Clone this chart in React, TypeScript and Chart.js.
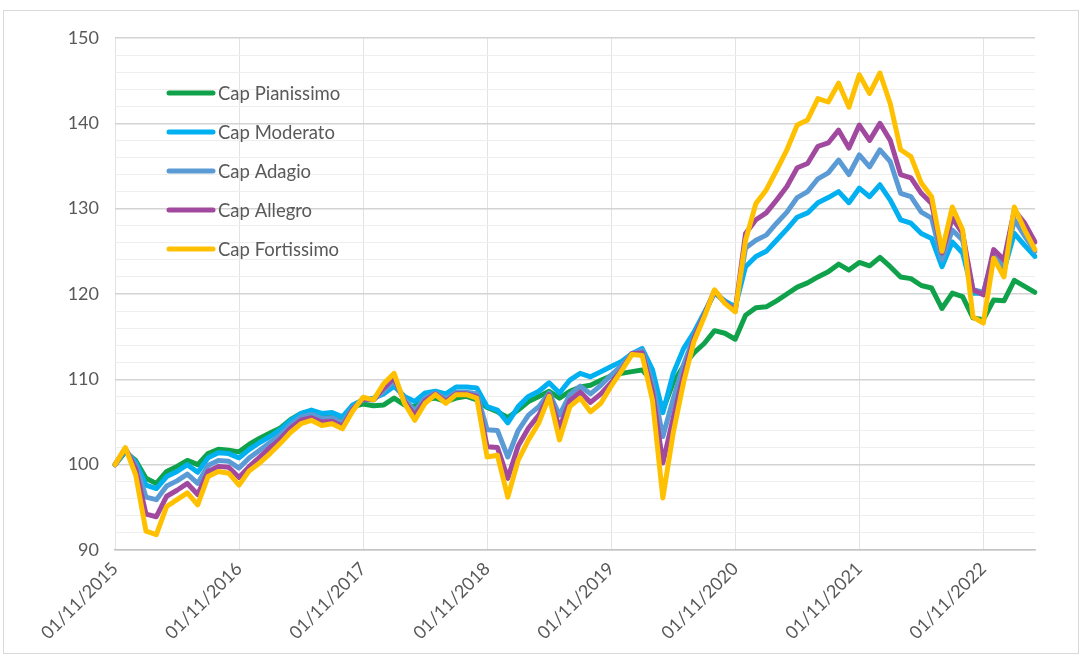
import React, { useEffect, useRef } from "react";
import { Chart, registerables } from "chart.js";

Chart.register(...registerables);

// Monthly categories (01/11/2015 ... 01/04/2023)
const dates: string[] = [
  "01/11/2015", "01/12/2015",
  "01/01/2016", "01/02/2016", "01/03/2016", "01/04/2016", "01/05/2016", "01/06/2016", "01/07/2016", "01/08/2016", "01/09/2016", "01/10/2016", "01/11/2016", "01/12/2016",
  "01/01/2017", "01/02/2017", "01/03/2017", "01/04/2017", "01/05/2017", "01/06/2017", "01/07/2017", "01/08/2017", "01/09/2017", "01/10/2017", "01/11/2017", "01/12/2017",
  "01/01/2018", "01/02/2018", "01/03/2018", "01/04/2018", "01/05/2018", "01/06/2018", "01/07/2018", "01/08/2018", "01/09/2018", "01/10/2018", "01/11/2018", "01/12/2018",
  "01/01/2019", "01/02/2019", "01/03/2019", "01/04/2019", "01/05/2019", "01/06/2019", "01/07/2019", "01/08/2019", "01/09/2019", "01/10/2019", "01/11/2019", "01/12/2019",
  "01/01/2020", "01/02/2020", "01/03/2020", "01/04/2020", "01/05/2020", "01/06/2020", "01/07/2020", "01/08/2020", "01/09/2020", "01/10/2020", "01/11/2020", "01/12/2020",
  "01/01/2021", "01/02/2021", "01/03/2021", "01/04/2021", "01/05/2021", "01/06/2021", "01/07/2021", "01/08/2021", "01/09/2021", "01/10/2021", "01/11/2021", "01/12/2021",
  "01/01/2022", "01/02/2022", "01/03/2022", "01/04/2022", "01/05/2022", "01/06/2022", "01/07/2022", "01/08/2022", "01/09/2022", "01/10/2022", "01/11/2022", "01/12/2022",
  "01/01/2023", "01/02/2023", "01/03/2023", "01/04/2023",
];

// x-axis tick labels shown (one per year)
const xTickLabels: string[] = [
  "01/11/2015", "01/11/2016", "01/11/2017", "01/11/2018",
  "01/11/2019", "01/11/2020", "01/11/2021", "01/11/2022",
];

// y-axis tick labels
const yTickLabels: number[] = [90, 100, 110, 120, 130, 140, 150];

const seriesNames: string[] = [
  "Cap Pianissimo", "Cap Moderato", "Cap Adagio", "Cap Allegro", "Cap Fortissimo",
];

const pianissimo: number[] = [
  100, 101.5, 100.5, 98.4, 97.8, 99.2, 99.8, 100.5, 100, 101.3,
  101.8, 101.7, 101.5, 102.4, 103.1, 103.7, 104.3, 105.3, 106, 106.2,
  105.8, 105.8, 105.5, 106.8, 107.1, 106.9, 107, 107.8, 107, 106.8,
  107.6, 107.8, 107.4, 107.8, 108, 107.6, 106.7, 106.2, 105.5, 106.4,
  107.4, 108, 108.6, 107.8, 108.6, 109.1, 109.3, 109.9, 110.4, 110.7,
  110.9, 111.1, 109.8, 106.4, 109.6, 111.6, 113.1, 114.2, 115.7, 115.4,
  114.7, 117.5, 118.4, 118.5, 119.2, 120, 120.8, 121.3, 122, 122.6,
  123.5, 122.8, 123.7, 123.3, 124.3, 123.2, 122, 121.8, 121, 120.7,
  118.3, 120.1, 119.7, 117.2, 117, 119.3, 119.2, 121.6, 120.9, 120.2,
];

const moderato: number[] = [
  100, 101.6, 100.3, 97.6, 97.2, 98.6, 99.2, 100, 99.1, 100.8,
  101.4, 101.3, 100.8, 101.8, 102.6, 103.3, 104.1, 105.2, 106, 106.4,
  106, 106.1, 105.6, 107, 107.6, 107.8, 108.3, 109.2, 108, 107.4,
  108.4, 108.6, 108.3, 109.1, 109.1, 109, 106.8, 106.4, 104.9, 106.8,
  108, 108.6, 109.6, 108.4, 109.9, 110.7, 110.3, 110.9, 111.5, 112.1,
  113, 113.6, 111.1, 106.1, 110.7, 113.6, 115.5, 117.8, 120.1, 119.2,
  118.5, 123.2, 124.4, 125, 126.3, 127.6, 129, 129.5, 130.7, 131.3,
  132, 130.7, 132.4, 131.4, 132.8, 131, 128.7, 128.3, 127.1, 126.5,
  123.2, 126.1, 124.8, 120.1, 120.1, 124, 122.8, 127.1, 125.7, 124.4,
];

const adagio: number[] = [
  100, 101.8, 100, 96.2, 95.9, 97.5, 98.1, 98.9, 97.8, 99.9,
  100.5, 100.4, 99.6, 100.8, 101.7, 102.6, 103.5, 104.7, 105.6, 105.9,
  105.4, 105.5, 104.9, 106.7, 107.6, 107.6, 108.6, 109.8, 107.7, 106.3,
  107.8, 108.4, 107.7, 108.5, 108.5, 108.3, 104.1, 104, 100.9, 104,
  105.8, 106.8, 108.4, 105.8, 108.2, 109.2, 108.3, 109.3, 110.5, 111.6,
  113, 113.4, 109.5, 103.3, 107.7, 111.7, 115, 117.6, 120.3, 119,
  118.2, 125.4, 126.3, 126.9, 128.3, 129.6, 131.3, 132, 133.5, 134.2,
  135.7, 134, 136.3, 134.9, 136.9, 135.5, 131.8, 131.4, 129.6, 128.9,
  124, 127.5, 126.3, 120.5, 120.2, 124.4, 123.3, 128.7, 126.8, 125,
];

const allegro: number[] = [
  100, 101.9, 99.5, 94.2, 93.9, 96.3, 97, 97.8, 96.5, 99.2,
  99.8, 99.7, 98.5, 99.8, 100.9, 102, 103, 104.3, 105.2, 105.5,
  105, 105.1, 104.5, 106.5, 107.7, 107.6, 109, 110.2, 107.4, 105.8,
  107.5, 108.3, 107.4, 108.3, 108.3, 108, 102.1, 102, 98.4, 102.2,
  104.3, 105.8, 108.2, 104.3, 107.5, 108.5, 107.3, 108.3, 109.6, 111.1,
  113, 113.1, 108.5, 100.2, 105.5, 110.5, 114.8, 117.5, 120.4, 119,
  118, 127.1, 128.7, 129.5, 131, 132.6, 134.8, 135.3, 137.3, 137.7,
  139.2, 137.1, 139.8, 138, 140, 138, 134, 133.6, 131.8, 130.6,
  124.8, 128.9, 127.1, 120.5, 119.9, 125.2, 124, 129.8, 128.3, 126.1,
];

const fortissimo: number[] = [
  100, 102, 98.8, 92.2, 91.8, 95.1, 95.9, 96.7, 95.3, 98.6,
  99.2, 99, 97.6, 99.3, 100.2, 101.3, 102.5, 103.8, 104.8, 105.2,
  104.6, 104.8, 104.2, 106.3, 107.9, 107.6, 109.5, 110.7, 107.2, 105.2,
  107.2, 108.2, 107.2, 108.2, 108.2, 107.8, 100.9, 101.1, 96.2, 100.5,
  102.9, 104.9, 108, 102.9, 106.8, 107.8, 106.2, 107.2, 109.2, 111,
  112.9, 112.8, 107.5, 96.1, 103.7, 109.6, 114.4, 117.3, 120.5, 118.9,
  117.9, 126.3, 130.6, 132.2, 134.5, 136.9, 139.8, 140.4, 142.9, 142.5,
  144.7, 141.9, 145.7, 143.5, 145.9, 142.3, 136.9, 136.1, 133, 131.4,
  125, 130.2, 127.5, 117.3, 116.6, 124.2, 122, 130.2, 127.5, 125.2,
];

const seriesValues: number[][] = [pianissimo, moderato, adagio, allegro, fortissimo];
const seriesColors: string[] = ["#0FA24A", "#00B0F0", "#5B9BD5", "#A1499F", "#FFC000"];

const TEXT_COLOR = "#595959";
const FONT_FAMILY = "Lato, 'Open Sans', sans-serif";

export default function App() {
  const canvasRef = useRef<HTMLCanvasElement>(null);

  useEffect(() => {
    const canvas = canvasRef.current;
    if (!canvas) return;

    const insideLegend = {
      id: "insideLegend",
      afterDraw(chart: any) {
        const { ctx, chartArea } = chart;
        ctx.save();
        const x0 = chartArea.left + 52;
        const y0 = chartArea.top + 55;
        chart.data.datasets.forEach((ds: any, k: number) => {
          const y = y0 + 39 * k;
          ctx.strokeStyle = ds.borderColor;
          ctx.lineWidth = 5;
          ctx.lineCap = "round";
          ctx.beginPath();
          ctx.moveTo(x0 + 2, y);
          ctx.lineTo(x0 + 46, y);
          ctx.stroke();
          ctx.fillStyle = TEXT_COLOR;
          ctx.font = `18.5px ${FONT_FAMILY}`;
          ctx.textBaseline = "middle";
          ctx.textAlign = "left";
          ctx.fillText(ds.label, x0 + 51, y + 1);
        });
        ctx.restore();
      },
    };

    const chart = new Chart(canvas, {
      type: "line",
      data: {
        labels: dates,
        datasets: seriesNames.map((name, k) => ({
          label: name,
          data: seriesValues[k],
          borderColor: seriesColors[k],
          backgroundColor: seriesColors[k],
          borderWidth: 5,
          pointRadius: 0,
          tension: 0,
          fill: false,
          borderJoinStyle: "round" as const,
          borderCapStyle: "round" as const,
          order: seriesNames.length - k,
        })),
      },
      options: {
        animation: false,
        responsive: false,
        maintainAspectRatio: false,
        layout: { padding: { left: 0, right: 48, top: 38, bottom: 0 } },
        plugins: {
          legend: { display: false },
          tooltip: { enabled: false },
        },
        scales: {
          x: {
            type: "category",
            grid: {
              color: (c: any) => (xTickLabels.includes(dates[c.index]) ? "#e3e3e3" : "rgba(0,0,0,0)"),
              lineWidth: 1,
              drawTicks: false,
            },
            border: { color: "#c4c4c4", width: 1.5 },
            ticks: {
              autoSkip: false,
              minRotation: 45,
              maxRotation: 45,
              padding: 8,
              color: TEXT_COLOR,
              font: { family: FONT_FAMILY, size: 18 },
              callback: (_v: any, i: number) => (xTickLabels.includes(dates[i]) ? dates[i] : ""),
            },
            afterFit: (s: any) => {
              s.height = 107;
            },
          },
          y: {
            min: yTickLabels[0],
            max: yTickLabels[yTickLabels.length - 1],
            grid: {
              color: (c: any) => (yTickLabels.includes(c.tick.value) ? "#d3d3d3" : "#eeeeee"),
              lineWidth: (c: any) => (yTickLabels.includes(c.tick.value) ? 1.5 : 1),
              drawTicks: false,
            },
            border: { display: false },
            ticks: {
              autoSkip: false,
              stepSize: 2,
              padding: 16,
              color: TEXT_COLOR,
              font: { family: FONT_FAMILY, size: 18 },
              callback: (v: any) => (yTickLabels.includes(Number(v)) ? String(v) : ""),
            },
            afterFit: (s: any) => {
              s.width = 115;
            },
          },
        },
      },
      plugins: [insideLegend],
    });

    return () => chart.destroy();
  }, []);

  return (
    <div
      style={{
        position: "fixed",
        left: 0,
        top: 0,
        width: 1083,
        height: 657,
        background: "#ffffff",
        overflow: "hidden",
      }}
    >
      <canvas ref={canvasRef} width={1083} height={657} style={{ position: "absolute", left: 0, top: 0 }} />
      <div
        style={{
          position: "absolute",
          left: 3,
          top: 10,
          width: 1074,
          height: 642,
          border: "1px solid #d9d9d9",
          pointerEvents: "none",
        }}
      />
    </div>
  );
}
